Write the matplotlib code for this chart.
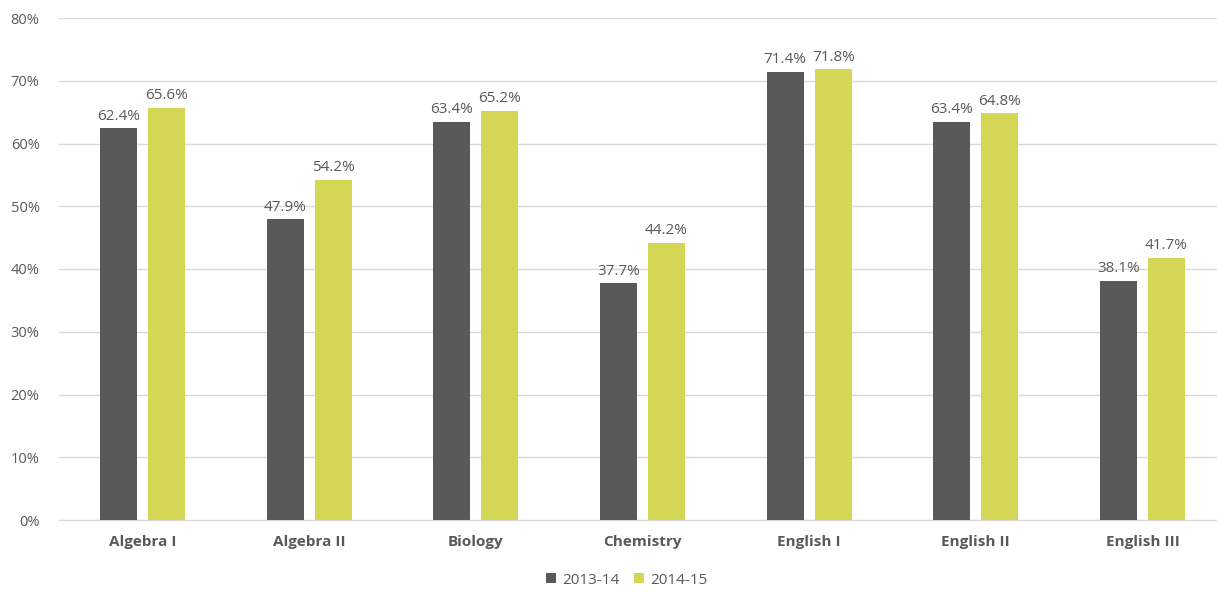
import matplotlib
matplotlib.use("Agg")
import matplotlib.pyplot as plt
import numpy as np

categories = ["Algebra I", "Algebra II", "Biology", "Chemistry", "English I", "English II", "English III"]
series_names = ["2013-14", "2014-15"]
values_1314 = [62.4, 47.9, 63.4, 37.7, 71.4, 63.4, 38.1]
values_1415 = [65.6, 54.2, 65.2, 44.2, 71.8, 64.8, 41.7]
yticks = [0, 10, 20, 30, 40, 50, 60, 70, 80]

colors = ["#595959", "#D4D755"]
text_color = "#595959"

plt.rcParams['font.family'] = ['Open Sans', 'DejaVu Sans']

fig = plt.figure(figsize=(12.17, 5.92), dpi=100)
ax = fig.add_axes([59/1217, 1-520/592, (7*166.7)/1217, (520-18)/592])

x = np.arange(len(categories))
w = 0.222
off = 0.144
b1 = ax.bar(x - off, values_1314, w, color=colors[0], label=series_names[0], zorder=3)
b2 = ax.bar(x + off, values_1415, w, color=colors[1], label=series_names[1], zorder=3)

for bars, vals in ((b1, values_1314), (b2, values_1415)):
    for rect, v in zip(bars, vals):
        ax.annotate(f"{v:.1f}%", (rect.get_x() + rect.get_width()/2, v),
                    xytext=(0, 3.5), textcoords="offset points",
                    ha="center", va="bottom", fontsize=11, color=text_color)

ax.set_xlim(-0.5, len(categories) - 0.5)
ax.set_ylim(0, 80)
ax.set_yticks(yticks)
ax.set_yticklabels([f"{t}%" for t in yticks], fontsize=10.5, color=text_color)
ax.set_xticks(x)
ax.set_xticklabels(categories, fontsize=11, fontweight="bold", color=text_color)
ax.tick_params(axis="both", length=0)
ax.tick_params(axis="x", pad=11)
ax.tick_params(axis="y", pad=14)
ax.grid(axis="y", color="#D9D9D9", linewidth=1, zorder=0)
for s in ["top", "right", "left"]:
    ax.spines[s].set_visible(False)
ax.spines["bottom"].set_color("#D9D9D9")

leg = fig.legend(handles=[b1, b2], labels=series_names, loc="center", bbox_to_anchor=(0.515, 1-580/592),
                 ncol=2, frameon=False, fontsize=11, handlelength=0.65, handleheight=0.65,
                 handletextpad=0.4, columnspacing=1.0)
for t in leg.get_texts():
    t.set_color(text_color)

fig.savefig("out.png", dpi=100)
